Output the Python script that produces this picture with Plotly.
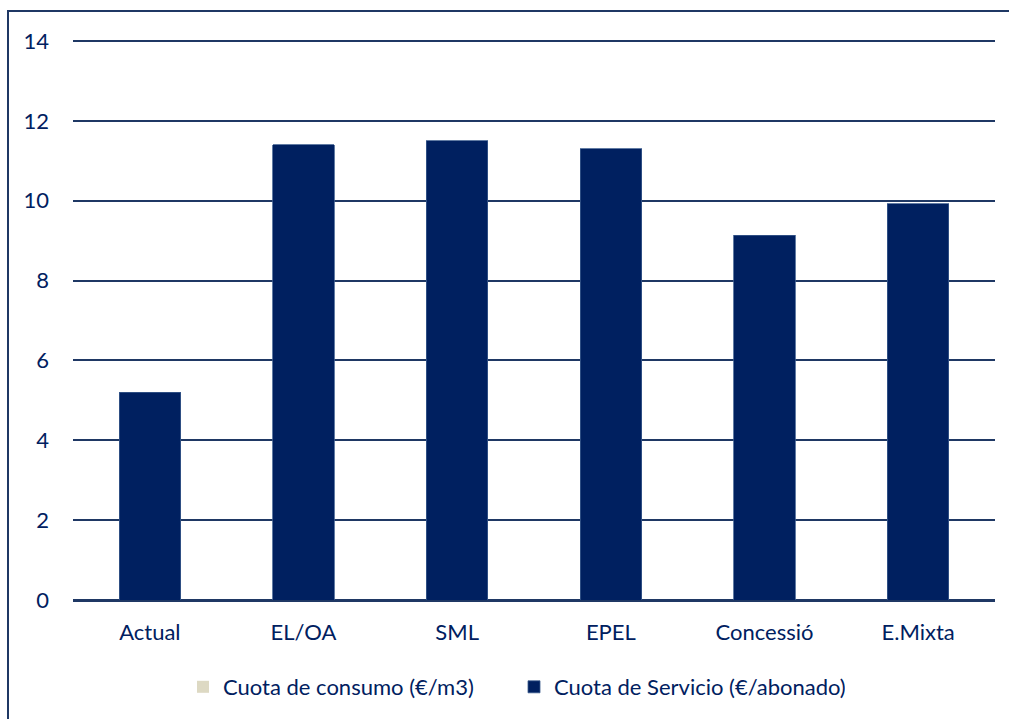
import plotly.graph_objects as go

categories = ["Actual", "EL/OA", "SML", "EPEL", "Concessió", "E.Mixta"]
cuota_consumo = [0, 0, 0, 0, 0, 0]
cuota_servicio = [5.2, 11.4, 11.5, 11.3, 9.13, 9.93]
y_ticks = [0, 2, 4, 6, 8, 10, 12, 14]

NAVY = "#002060"
GRID = "#1F3864"
TAN = "#DDD9C3"
FONT = "Lato, Carlito, Open Sans, sans-serif"

Y_MAX = 14.05
W, H = 1009, 719
ML, MR = 73, 14
ph = round(Y_MAX * 40)
MB = 719 - 601
MT = H - MB - ph
pw = W - ML - MR

fig = go.Figure()
fig.add_trace(go.Bar(
    x=categories, y=cuota_consumo, name="Cuota de consumo (€/m3)",
    marker=dict(color=TAN, line=dict(width=0)), width=0.4,
))
fig.add_trace(go.Bar(
    x=categories, y=cuota_servicio, name="Cuota de Servicio (€/abonado)",
    marker=dict(color=NAVY, line=dict(color="#3A5A8C", width=0.8)), width=0.4,
))

# outer frame around the chart area
fig.add_shape(
    type="rect", xref="paper", yref="paper",
    x0=(8 - ML) / pw, x1=(W + 20 - ML) / pw,
    y0=(MT + ph - (H + 20)) / ph, y1=(MT + ph - 11) / ph,
    line=dict(color=GRID, width=2), fillcolor="rgba(0,0,0,0)", layer="below",
)

fig.update_layout(
    width=W, height=H,
    margin=dict(l=ML, r=MR, t=MT, b=MB),
    paper_bgcolor="white", plot_bgcolor="white",
    barmode="stack",
    font=dict(family=FONT, size=22, color=NAVY),
    showlegend=True,
    legend=dict(
        orientation="h", x=(514 - ML) / pw, xanchor="center",
        y=(MT + ph - 687) / ph, yanchor="middle",
        font=dict(size=22, color=NAVY), traceorder="normal",
        itemwidth=30, entrywidth=286, entrywidthmode="pixels",
    ),
    xaxis=dict(
        showgrid=False, showline=False, ticks="",
        tickfont=dict(size=22, color=NAVY), ticklabelstandoff=17,
    ),
    yaxis=dict(
        range=[0, Y_MAX], tickvals=y_ticks, showgrid=True,
        gridcolor=GRID, gridwidth=2, zeroline=True, zerolinecolor=GRID,
        zerolinewidth=2.5, showline=False, ticks="",
        tickfont=dict(size=22, color=NAVY), ticklabelstandoff=23,
    ),
)

fig.write_html("out.html")
